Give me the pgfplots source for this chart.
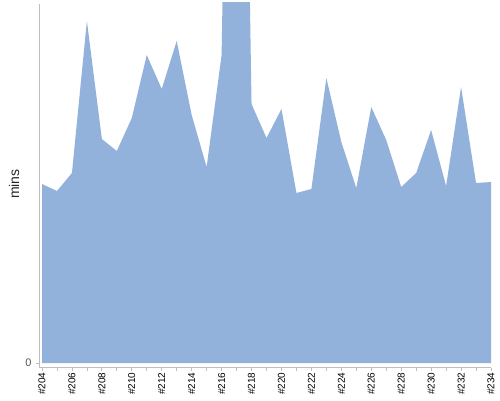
\documentclass[border=0pt]{standalone}
\usepackage{pgfplots}
\pgfplotsset{compat=1.18}
\usepackage{fontspec}
\setmainfont{Liberation Sans}
\definecolor{areablue}{RGB}{146,178,219}
\definecolor{axgray}{RGB}{190,190,190}
\definecolor{lblgray}{RGB}{85,85,85}
\begin{document}
\begin{tikzpicture}
\begin{axis}[
    at={(0,0)}, anchor=south west,
    scale only axis,
    width=449pt, height=360pt,
    xmin=204, xmax=234,
    ymin=0, ymax=360,
    axis line style={draw=none},
    major tick length=0pt,
    xtick={204,206,...,234},
    xticklabels={\#204,\#206,\#208,\#210,\#212,\#214,\#216,\#218,\#220,\#222,\#224,\#226,\#228,\#230,\#232,\#234},
    x tick label style={rotate=90, anchor=east, font=\fontsize{10}{11}\selectfont},
    xticklabel shift=6pt,
    ytick={0},
    yticklabels={0},
    y tick label style={font=\fontsize{11}{12}\selectfont, text=lblgray},
    yticklabel shift=7pt,
]
\addplot[fill=areablue, draw=none] coordinates {
    (204,179) (205,172) (206,190) (207,342) (208,224) (209,212)
    (210,245) (211,308) (212,274) (213,322) (214,248) (215,196)
    (216,308) (217,1200) (218,259) (219,225) (220,254) (221,170)
    (222,174) (223,285) (224,221) (225,175) (226,256) (227,223)
    (228,176) (229,190) (230,233) (231,177) (232,276) (233,180)
    (234,181)
} \closedcycle;
\end{axis}
% axis lines, offset from the data area as in the reference
\draw[axgray, line width=0.8pt] (-3pt,359pt) -- (-3pt,-4.7pt) -- (449pt,-4.7pt);
\draw[axgray, line width=0.8pt] (-3pt,0pt) -- (-6pt,0pt);
\foreach \i in {0,...,30}
    \draw[axgray, line width=0.8pt] (\i*449pt/30,-4.7pt) -- (\i*449pt/30,-7.5pt);
\node[rotate=90, font=\fontsize{14}{15}\selectfont, text=black!85] at (-28pt,179pt) {mins};
\pgfresetboundingbox
\path (-42pt,-37pt) rectangle (458pt,363pt);
\end{tikzpicture}
\end{document}
